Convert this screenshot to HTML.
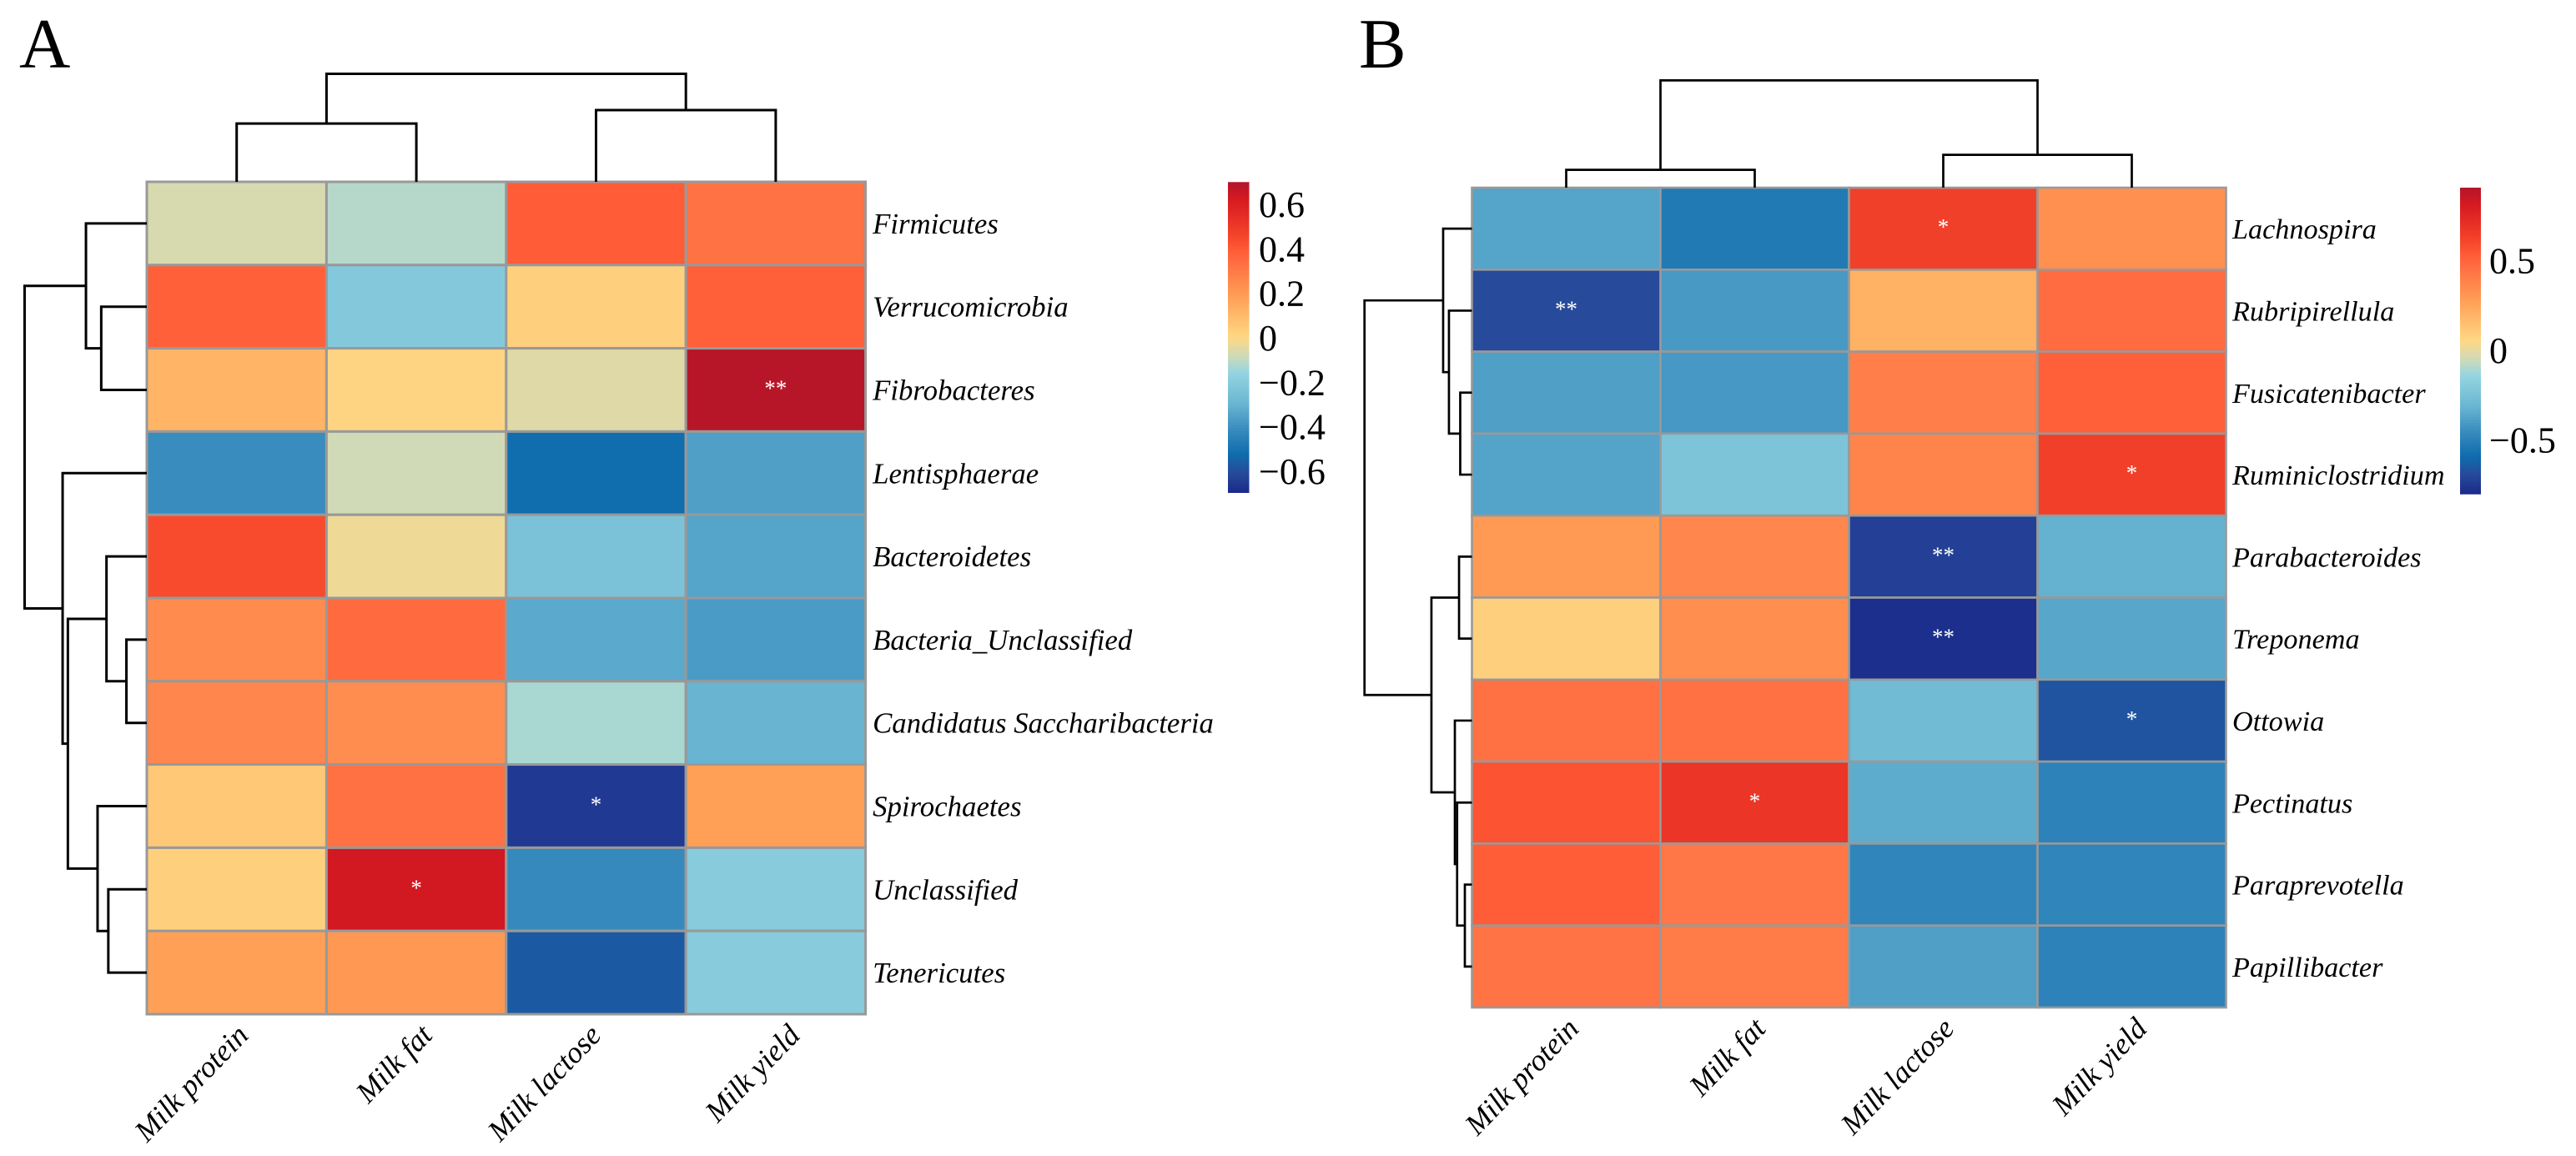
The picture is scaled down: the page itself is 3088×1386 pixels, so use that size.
<!DOCTYPE html>
<html lang="en">
<head>
<meta charset="utf-8">
<title>Correlation heatmaps A and B</title>
<style>
html,body{margin:0;padding:0;background:#fff;}
svg{display:block;}
text{font-family:"Liberation Serif","Times New Roman",serif;fill:#000;}
</style>
</head>
<body>
<svg id="chart" xmlns="http://www.w3.org/2000/svg" width="3088" height="1386" viewBox="0 0 3088 1386">
<rect x="0" y="0" width="3088" height="1386" fill="#fff"/>
<text x="23" y="81" font-size="85">A</text>
<text x="1629" y="81" font-size="85">B</text>
</svg>
<script>
/* ---------- DATA ---------- */
const columnsA = ['Milk protein', 'Milk fat', 'Milk lactose', 'Milk yield'];
const rowsA = ['Firmicutes', 'Verrucomicrobia', 'Fibrobacteres', 'Lentisphaerae', 'Bacteroidetes', 'Bacteria_Unclassified', 'Candidatus Saccharibacteria', 'Spirochaetes', 'Unclassified', 'Tenericutes'];
const valuesA = [
  [-0.068, -0.115, 0.394, 0.325],
  [0.38, -0.21, 0.027, 0.38],
  [0.12, 0.013, -0.054, 0.69],
  [-0.41, -0.08, -0.52, -0.36],
  [0.44, -0.027, -0.24, -0.345],
  [0.246, 0.35, -0.33, -0.37],
  [0.264, 0.24, -0.13, -0.3],
  [0.053, 0.33, -0.654, 0.18],
  [0.027, 0.63, -0.42, -0.2],
  [0.18, 0.205, -0.57, -0.2]
];
const starsA = [[2, 3, '**'], [7, 2, '*'], [8, 1, '*']];
const colorTicksA = [0.6, 0.4, 0.2, 0, -0.2, -0.4, -0.6];
const colorRangeA = [-0.6975, 0.7];
/* merges: negative = leaf index (1-based), positive = earlier merge (1-based), last = height */
const colMergesA = [[-1, -2, 0.54], [-3, -4, 0.664], [1, 2, 1]];
const rowMergesA = [
  [-2, -3, 0.373], [-1, 1, 0.498], [-6, -7, 0.167], [-5, 3, 0.33],
  [-9, -10, 0.315], [-8, 5, 0.403], [4, 6, 0.646], [-4, 7, 0.689], [2, 8, 1]
];

const columnsB = ['Milk protein', 'Milk fat', 'Milk lactose', 'Milk yield'];
const rowsB = ['Lachnospira', 'Rubripirellula', 'Fusicatenibacter', 'Ruminiclostridium', 'Parabacteroides', 'Treponema', 'Ottowia', 'Pectinatus', 'Paraprevotella', 'Papillibacter'];
const valuesB = [
  [-0.372, -0.531, 0.633, 0.334],
  [-0.692, -0.41, 0.208, 0.471],
  [-0.39, -0.413, 0.402, 0.517],
  [-0.375, -0.233, 0.379, 0.637],
  [0.295, 0.372, -0.726, -0.324],
  [0.088, 0.341, -0.786, -0.362],
  [0.456, 0.456, -0.283, -0.663],
  [0.563, 0.683, -0.345, -0.492],
  [0.529, 0.428, -0.481, -0.481],
  [0.444, 0.413, -0.39, -0.492]
];
const starsB = [[0, 2, '*'], [1, 0, '**'], [3, 3, '*'], [4, 2, '**'], [5, 2, '**'], [6, 3, '*'], [7, 1, '*']];
const colorTicksB = [0.5, 0, -0.5];
const colorRangeB = [-0.803, 0.907];
const colMergesB = [[-1, -2, 0.166], [-3, -4, 0.306], [1, 2, 1]];
const rowMergesB = [
  [-3, -4, 0.109], [-2, 1, 0.214], [-1, 2, 0.268], [-5, -6, 0.12],
  [-9, -10, 0.066], [-8, 5, 0.138], [-7, 6, 0.159], [4, 7, 0.377], [3, 8, 1]
];

/* ---------- COLOUR RAMP ---------- */
const rampStops = [
  [0, '#1a2a8a'], [0.065, '#274a9b'], [0.123, '#0f6cad'], [0.2, '#368abd'],
  [0.288, '#6ab6d2'], [0.387, '#94d5e1'], [0.44, '#cfdab8'], [0.5, '#fed885'],
  [0.557, '#ffc070'], [0.629, '#ffa056'], [0.736, '#ff7043'], [0.785, '#ff5a36'],
  [0.826, '#f5452b'], [0.942, '#d71a21'], [1, '#b2162a']
];
function hexToRgb(h) {
  return [parseInt(h.slice(1, 3), 16), parseInt(h.slice(3, 5), 16), parseInt(h.slice(5, 7), 16)];
}
function colorAt(value, range) {
  const t = Math.max(0, Math.min(1, (value - range[0]) / (range[1] - range[0])));
  for (let i = 1; i < rampStops.length; i++) {
    if (t <= rampStops[i][0]) {
      const a = rampStops[i - 1], b = rampStops[i];
      const f = (t - a[0]) / (b[0] - a[0]);
      const ca = hexToRgb(a[1]), cb = hexToRgb(b[1]);
      const c = ca.map(function (v, k) { return Math.round(v + (cb[k] - v) * f); });
      return 'rgb(' + c.join(',') + ')';
    }
  }
  return rampStops[rampStops.length - 1][1];
}

/* ---------- DRAWING ---------- */
const NS = 'http://www.w3.org/2000/svg';
const svg = document.getElementById('chart');
function make(tag, attrs, parent) {
  const el = document.createElementNS(NS, tag);
  for (const k in attrs) el.setAttribute(k, attrs[k]);
  parent.appendChild(el);
  return el;
}

function drawDendrogram(merges, leafPos, basePos, span, horizontal, group, strokeW) {
  const dist = function (h) { return basePos - h * span; };
  const nodes = [];
  function node(id) {
    if (id < 0) return { pos: leafPos(-id - 1), h: 0 };
    return nodes[id - 1];
  }
  merges.forEach(function (m) {
    const a = node(m[0]), b = node(m[1]);
    const d = horizontal
      ? 'M' + dist(a.h) + ' ' + a.pos + 'H' + dist(m[2]) + 'V' + b.pos + 'H' + dist(b.h)
      : 'M' + a.pos + ' ' + dist(a.h) + 'V' + dist(m[2]) + 'H' + b.pos + 'V' + dist(b.h);
    const el = make('path', { d: d, fill: 'none', stroke: '#000', 'stroke-width': strokeW, 'stroke-linejoin': 'miter' }, group);
    
    
    nodes.push({ pos: (a.pos + b.pos) / 2, h: m[2] });
  });
}

function drawPanel(p) {
  const g = make('g', {}, svg);
  
  

  const x = function (col) { return p.left + col * p.colW; };
  const y = function (row) { return p.top + row * p.rowH; };
  const cx = function (col) { return x(col) + p.colW / 2; };
  const cy = function (row) { return y(row) + p.rowH / 2; };

  const cells = make('g', {}, g);
  
  
  p.values.forEach(function (rowVals, r) {
    rowVals.forEach(function (v, c) {
      const cell = make('rect', {
        x: x(c), y: y(r), width: p.colW, height: p.rowH,
        fill: colorAt(v, p.range), stroke: '#999', 'stroke-width': p.grid
      }, cells);
      
      
    });
  });

  p.stars.forEach(function (s) {
    const star = make('text', {
      x: cx(s[1]), y: cy(s[0]) + 7, 'font-size': 27, 'text-anchor': 'middle'
    }, g);
    star.style.fill = '#fff';
    star.textContent = s[2];
    
    
  });

  p.rows.forEach(function (name, r) {
    const t = make('text', { x: p.left + 4 * p.colW + p.labelGap, y: cy(r) + 12, 'font-size': p.labelSize, 'font-style': 'italic' }, g);
    t.textContent = name;
    
    
  });

  p.cols.forEach(function (name, c) {
    const ax = cx(c) + p.colShift[c];
    const ay = p.top + 10 * p.rowH + p.colDrop;
    const t = make('text', {
      x: ax, y: ay, 'font-size': 36, 'font-style': 'italic', 'text-anchor': 'end',
      transform: 'rotate(-46 ' + ax + ' ' + ay + ')'
    }, g);
    t.textContent = name;
    
    
  });

  const topTree = make('g', {}, g);
  
  
  drawDendrogram(p.colMerges, cx, p.top, p.colTreeSpan, false, topTree, p.tree);

  const leftTree = make('g', {}, g);
  
  
  drawDendrogram(p.rowMerges, cy, p.left, p.rowTreeSpan, true, leftTree, p.tree);

  /* colour bar */
  const bar = make('g', {}, g);
  
  
  const barY = function (v) {
    return p.barBottom - (v - p.range[0]) / (p.range[1] - p.range[0]) * (p.barBottom - p.barTop);
  };
  const steps = 120;
  for (let i = 0; i < steps; i++) {
    const v1 = p.range[1] - (p.range[1] - p.range[0]) * i / steps;
    const v2 = p.range[1] - (p.range[1] - p.range[0]) * (i + 1) / steps;
    const seg = make('rect', {
      x: p.barX, y: barY(v1), width: p.barW, height: barY(v2) - barY(v1) + (i < steps - 1 ? 0.6 : 0),
      fill: colorAt((v1 + v2) / 2, p.range)
    }, bar);
    
    
  }
  p.ticks.forEach(function (v) {
    const t = make('text', { x: p.barX + p.barW + p.tickGap, y: barY(v) + 15, 'font-size': 44 }, bar);
    t.textContent = (v < 0 ? '\u2212' : '') + Math.abs(v);
    
    
  });
}

drawPanel({
  id: 'a', cols: columnsA, rows: rowsA, values: valuesA, stars: starsA, range: colorRangeA, ticks: colorTicksA,
  colMerges: colMergesA, rowMerges: rowMergesA,
  left: 176, top: 218, colW: 215.4, rowH: 99.8, grid: 3, tree: 3,
  colTreeSpan: 129.5, rowTreeSpan: 146.5, labelGap: 8.5, labelSize: 34.8,
  colShift: [16, 21, 8, 31], colDrop: 27,
  barX: 1472, barW: 25.5, barTop: 218.3, barBottom: 591, tickGap: 11.5
});
drawPanel({
  id: 'b', cols: columnsB, rows: rowsB, values: valuesB, stars: starsB, range: colorRangeB, ticks: colorTicksB,
  colMerges: colMergesB, rowMerges: rowMergesB,
  left: 1764.5, top: 225, colW: 226, rowH: 98.3, grid: 2.6, tree: 2.7,
  colTreeSpan: 128.6, rowTreeSpan: 128.8, labelGap: 7.5, labelSize: 34.2,
  colShift: [17, 15, 15, 20], colDrop: 27,
  barX: 2949, barW: 25, barTop: 225, barBottom: 592.7, tickGap: 10
});
</script>
</body>
</html>
